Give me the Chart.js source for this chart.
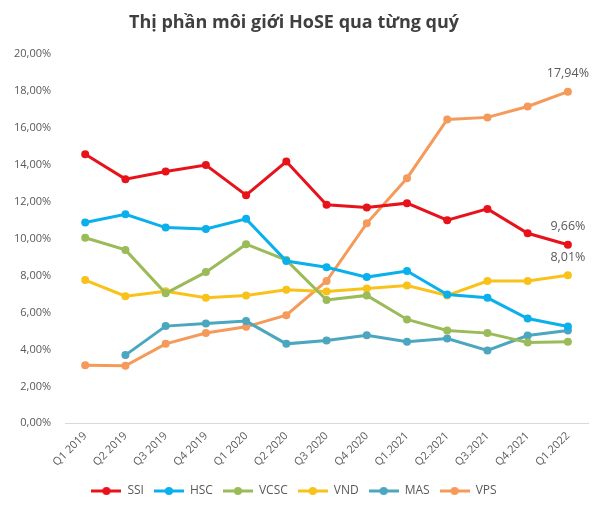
<!DOCTYPE html>
<html>
<head>
<meta charset="utf-8">
<script src="https://cdn.jsdelivr.net/npm/chart.js@4.4.1/dist/chart.umd.min.js"></script>
<style>
  body { margin: 0; background: #fff; }
  #wrap { width: 600px; height: 515px; position: relative; }
</style>
</head>
<body>
<div id="wrap"><canvas id="chart"></canvas></div>
<script>
// du lieu thi phan (%)
const quarters = ['Q1 2019', 'Q2 2019', 'Q3 2019', 'Q4 2019', 'Q1 2020', 'Q2 2020', 'Q3 2020', 'Q4 2020',
    'Q1.2021', 'Q2.2021', 'Q3.2021', 'Q4.2021', 'Q1.2022'];
const ssi  = [14.56, 13.21, 13.62, 13.97, 12.34, 14.16, 11.82, 11.67, 11.91, 10.99, 11.60, 10.28, 9.66];
const hsc  = [10.86, 11.31, 10.59, 10.51, 11.06, 8.78, 8.44, 7.91, 8.24, 6.97, 6.79, 5.67, 5.24];
const vcsc = [10.04, 9.38, 7.03, 8.18, 9.69, 8.83, 6.67, 6.92, 5.62, 5.02, 4.88, 4.37, 4.41];
const vnd  = [7.75, 6.88, 7.15, 6.79, 6.92, 7.23, 7.13, 7.30, 7.46, 6.92, 7.70, 7.70, 8.01];
const mas  = [null, 3.69, 5.26, 5.40, 5.53, 4.30, 4.48, 4.77, 4.41, 4.59, 3.94, 4.75, 5.02];
const vps  = [3.14, 3.11, 4.30, 4.89, 5.22, 5.85, 7.70, 10.82, 13.26, 16.44, 16.55, 17.14, 17.94];

const names  = ['SSI', 'HSC', 'VCSC', 'VND', 'MAS', 'VPS'];
const series = [ssi, hsc, vcsc, vnd, mas, vps];
const colors = ['#E8121B', '#0AB0EC', '#9BBB59', '#F9C21A', '#4BA6BF', '#F59A5A'];
// series co nhan o diem cuoi
const labelled = ['SSI', 'VND', 'VPS'];

const fmt = v => v.toFixed(2).replace('.', ',') + '%';

// icon legend: doan thang co cham tron
function legendIcon(color) {
    const c = document.createElement('canvas');
    c.width = 30; c.height = 10;
    const g = c.getContext('2d');
    g.strokeStyle = color; g.lineWidth = 3;
    g.beginPath(); g.moveTo(0, 5); g.lineTo(30, 5); g.stroke();
    g.fillStyle = color;
    g.beginPath(); g.arc(15, 5, 4, 0, Math.PI * 2); g.fill();
    return c;
}

const lastLabels = {
    id: 'lastLabels',
    afterDatasetsDraw(chart) {
        const ctx = chart.ctx;
        ctx.save();
        ctx.font = '12.5px "Open Sans"';
        ctx.fillStyle = '#595959';
        ctx.textAlign = 'center';
        ctx.textBaseline = 'middle';
        chart.data.datasets.forEach((ds, i) => {
            if (!labelled.includes(ds.label)) return;
            const pts = chart.getDatasetMeta(i).data;
            const p = pts[pts.length - 1];
            ctx.fillText(fmt(ds.data[ds.data.length - 1]), p.x, p.y - 18);
        });
        ctx.restore();
    }
};

const chart = new Chart(document.getElementById('chart'), {
    type: 'line',
    data: {
        labels: quarters,
        datasets: series.map((d, i) => ({
            label: names[i],
            data: d,
            borderColor: colors[i],
            backgroundColor: colors[i],
            borderWidth: 3,
            pointRadius: 4,
            pointBorderWidth: 0,
            pointStyle: 'circle',
            tension: 0,
            spanGaps: false
        }))
    },
    options: {
        responsive: true,
        maintainAspectRatio: false,
        animation: false,
        layout: { padding: { top: 8, right: 12, left: 0, bottom: 8 } },
        plugins: {
            title: {
                display: true,
                text: 'Thị phần môi giới HoSE qua từng quý',
                color: '#404040',
                font: { family: 'Open Sans', size: 18, weight: 'bold' },
                padding: { top: 4, bottom: 20 }
            },
            legend: {
                position: 'bottom',
                labels: {
                    color: '#595959',
                    font: { family: 'Open Sans', size: 12 },
                    boxWidth: 30,
                    pointStyleWidth: 30,
                    padding: 10,
                    usePointStyle: true,
                    generateLabels(chart) {
                        return chart.data.datasets.map((ds, i) => ({
                            text: ds.label,
                            fillStyle: colors[i],
                            strokeStyle: colors[i],
                            lineWidth: 0,
                            pointStyle: legendIcon(colors[i]),
                            datasetIndex: i,
                            fontColor: '#595959'
                        }));
                    }
                }
            },
            tooltip: { enabled: false }
        },
        scales: {
            x: {
                offset: true,
                grid: { display: false, drawTicks: false },
                border: { color: '#D9D9D9' },
                ticks: {
                    color: '#595959',
                    font: { family: 'Open Sans', size: 11 },
                    minRotation: 45,
                    maxRotation: 45,
                    padding: 6
                }
            },
            y: {
                min: 0,
                max: 20,
                grid: { display: false, drawTicks: false },
                border: { display: false },
                ticks: {
                    stepSize: 2,
                    color: '#595959',
                    font: { family: 'Open Sans', size: 11 },
                    padding: 14,
                    callback: v => fmt(v)
                }
            }
        }
    },
    plugins: [lastLabels]
});
</script>
</body>
</html>
